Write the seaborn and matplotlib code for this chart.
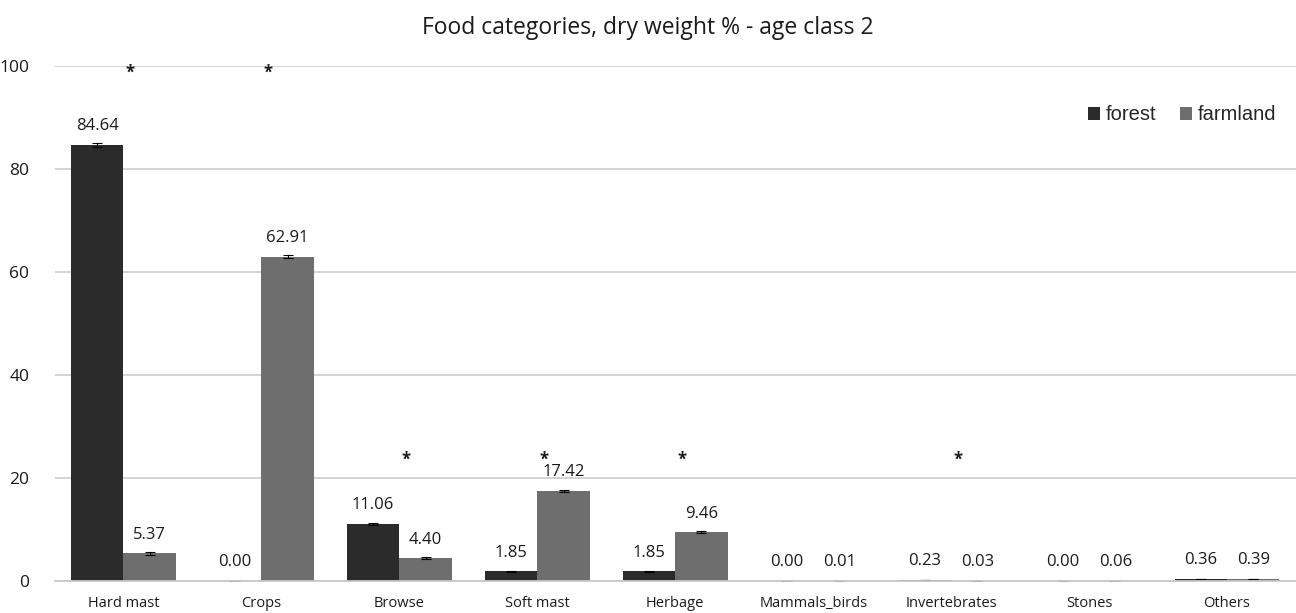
import pandas as pd
import matplotlib
matplotlib.use("Agg")
import matplotlib.pyplot as plt
import seaborn as sns

# Data
categories = ["Hard mast", "Crops", "Browse", "Soft mast", "Herbage",
              "Mammals_birds", "Invertebrates", "Stones", "Others"]
forest = [84.64, 0.00, 11.06, 1.85, 1.85, 0.00, 0.23, 0.00, 0.36]
farmland = [5.37, 62.91, 4.40, 17.42, 9.46, 0.01, 0.03, 0.06, 0.39]
forest_err = [0.35, 0.05, 0.15, 0.10, 0.10, 0.0, 0.05, 0.0, 0.05]
farmland_err = [0.25, 0.30, 0.20, 0.20, 0.20, 0.0, 0.0, 0.0, 0.05]
# categories flagged with a significance star, and the star height
signif = ["Hard mast", "Crops", "Browse", "Soft mast", "Herbage", "Invertebrates"]
signif_y = [98.6, 98.6, 23.6, 23.6, 23.6, 23.6]

df = pd.DataFrame({
    "category": categories * 2,
    "habitat": ["forest"] * len(categories) + ["farmland"] * len(categories),
    "value": forest + farmland,
    "err": forest_err + farmland_err,
})

sns.set_style("white")
plt.rcParams["font.family"] = ["Open Sans", "DejaVu Sans"]
txt = "#1a1a1a"

fig = plt.figure(figsize=(12.96, 6.13), dpi=100)
ax = fig.add_axes([54.5 / 1296, 1 - 581 / 613, (1296 - 54.5) / 1296, (581 - 65.7) / 613])

sns.barplot(data=df, x="category", y="value", hue="habitat", order=categories,
            hue_order=["forest", "farmland"], palette=["#2b2b2b", "#6e6e6e"],
            width=0.76, errorbar=None, saturation=1, linewidth=0, ax=ax)

# error bars and value labels on each bar
for cont, errs in zip(ax.containers, [forest_err, farmland_err]):
    xs = [p.get_x() + p.get_width() / 2 for p in cont]
    ys = [p.get_height() for p in cont]
    ax.errorbar(xs, ys, yerr=errs, fmt="none", ecolor="black", elinewidth=0.8,
                capsize=3.5, capthick=0.8)
    for x, y in zip(xs, ys):
        ax.annotate(f"{y:.2f}", (x, y), xytext=(0, 13.5), textcoords="offset points",
                    ha="center", va="center", fontsize=12, color=txt)

for cat, sy in zip(signif, signif_y):
    ax.text(categories.index(cat) + 0.05, sy, "*", ha="center", va="center",
            fontsize=12, fontweight="bold", color=txt)

ax.set_ylim(0, 100)
ax.set_xlim(-0.5, len(categories) - 0.5)
ax.set_yticks([0, 20, 40, 60, 80, 100])
ax.yaxis.grid(True, color="#d0d0d0", linewidth=1.3)
ax.set_axisbelow(True)
ax.set_xlabel("")
ax.set_ylabel("")
for s in ["left", "right", "top"]:
    ax.spines[s].set_visible(False)
ax.spines["bottom"].set_color("#c8c8c8")
ax.spines["bottom"].set_linewidth(1.3)
ax.tick_params(axis="y", length=0, labelsize=12.5, pad=18, labelcolor=txt)
ax.tick_params(axis="x", length=0, labelsize=10.5, pad=11, labelcolor=txt)
ax.set_xticks([i + 0.5 for i in range(len(categories) - 1)], minor=True)
ax.tick_params(axis="x", which="minor", length=6, color="#c8c8c8", width=1.3)

fig.text(0.5, 1 - 28 / 613, "Food categories, dry weight % - age class 2", ha="center",
         va="center", fontsize=16.5, color=txt)

ax.legend(loc="center right", bbox_to_anchor=(1294 / 1296, 1 - 115 / 613),
          bbox_transform=fig.transFigure, ncol=2, frameon=False,
          handlelength=0.6, handleheight=0.6, handletextpad=0.25,
          columnspacing=1.2, prop={"family": "Liberation Sans", "size": 14.5})

fig.savefig("out.png", dpi=100)
